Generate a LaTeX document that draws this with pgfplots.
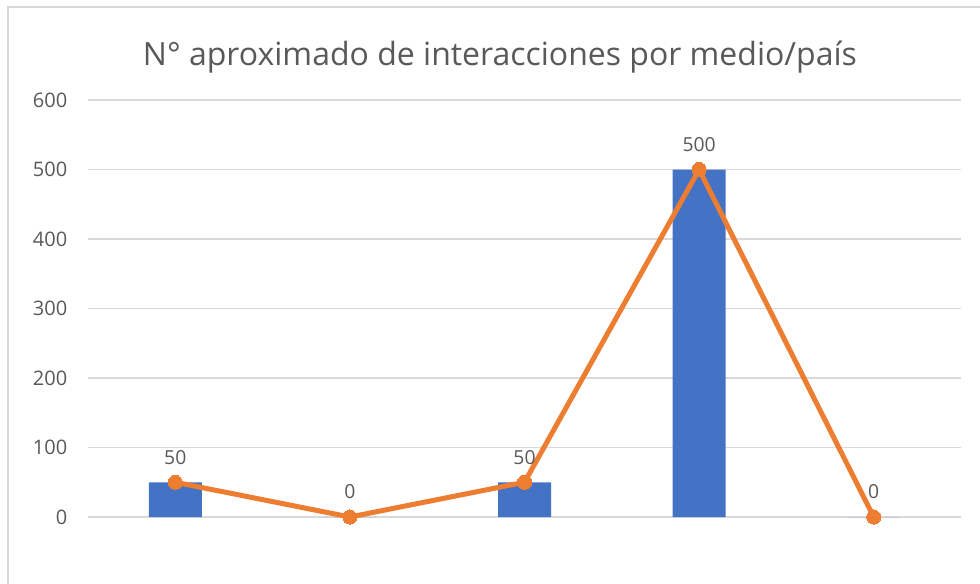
\documentclass[border=0pt]{standalone}
\usepackage{pgfplots}
\pgfplotsset{compat=1.18}
\usepackage{fontspec}
\setmainfont{Open Sans}
\definecolor{barblue}{HTML}{4472C4}
\definecolor{lineor}{HTML}{ED7D31}
\definecolor{txt}{HTML}{595959}
\definecolor{gridc}{HTML}{D9D9D9}
\begin{document}
\begin{tikzpicture}
\useasboundingbox (0,0) rectangle (735pt,437.25pt);
\fill[white] (0,0) rectangle (735pt,437.25pt);
\begin{scope}
\clip (0,0) rectangle (735pt,437.25pt);
\draw[gridc, line width=1.5pt] (6pt,-10pt) -- (6pt,432pt) -- (745pt,432pt);
\end{scope}
\node[txt, font=\fontsize{24}{28}\selectfont] at (375pt,394.5pt) {N° aproximado de interacciones por medio/país};
\begin{axis}[
  at={(66pt,49.5pt)}, anchor=south west, scale only axis,
  width=654.75pt, height=312.75pt,
  xmin=-0.5, xmax=4.5, ymin=0, ymax=600,
  ytick={0,100,...,600}, xtick=\empty,
  ymajorgrids, grid style={gridc, line width=1.1pt},
  axis line style={draw=none}, major tick length=0pt,
  /pgf/number format/assume math mode=true,
  yticklabel style={txt, font=\fontsize{15}{18}\selectfont, anchor=east, xshift=-12pt},
  clip=false,
]
\addplot[ybar, bar width=39.75pt, fill=barblue, draw=none] coordinates {(0,50) (1,0) (2,50) (3,500) (4,0)};
\addplot[lineor, line width=3.75pt, mark=*, mark size=5.3pt,
  mark options={fill=lineor, draw=lineor, line width=0pt},
  nodes near coords,
  every node near coord/.append style={txt, font=\fontsize{14.5}{17}\selectfont, anchor=center, yshift=18.75pt}]
  coordinates {(0,50) (1,0) (2,50) (3,500) (4,0)};
\end{axis}
\end{tikzpicture}
\end{document}
